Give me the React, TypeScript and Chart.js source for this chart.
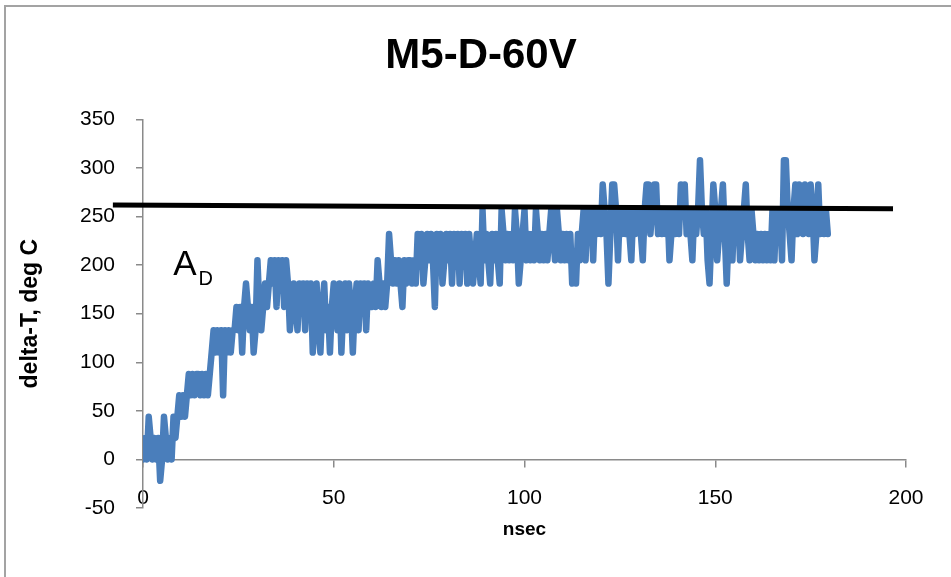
import { useEffect, useRef } from "react";
import { Chart, registerables } from "chart.js";

Chart.register(...registerables);

const FONT = '"Liberation Sans", Arial, sans-serif';

const TITLE = "M5-D-60V";
const X_TITLE = "nsec";
const Y_TITLE = "delta-T, deg C";

const X_MIN = 0;
const X_MAX = 200;
const X_STEP = 50;
const Y_MIN = -50;
const Y_MAX = 350;
const Y_STEP = 50;

// thermocouple sampling interval, ns
const SAMPLE_STEP_NS = 0.5;

// measured temperature rise, one row per 10 ns
const DELTA_T = [
  0, 22, 0, 44, 22, 0, 22, 0, 22, -22, 0, 44, 22, 0, 22, 0, 44, 22, 44, 66,
  44, 66, 44, 66, 88, 66, 88, 66, 88, 88, 66, 88, 66, 88, 66, 88, 110, 133, 110, 133,
  110, 133, 66, 133, 110, 133, 110, 133, 133, 157, 133, 157, 110, 157, 181, 157, 133, 157, 110, 133,
  205, 157, 133, 157, 181, 157, 181, 205, 181, 205, 157, 205, 181, 205, 157, 205, 181, 133, 157, 181,
  157, 133, 181, 157, 181, 133, 181, 157, 181, 110, 157, 181, 133, 110, 157, 181, 133, 157, 110, 157,
  181, 157, 133, 181, 110, 157, 181, 133, 181, 157, 110, 157, 181, 133, 181, 157, 181, 133, 181, 157,
  157, 181, 157, 205, 181, 157, 181, 157, 181, 232, 205, 181, 205, 181, 205, 181, 157, 205, 181, 205,
  205, 181, 205, 181, 232, 205, 232, 181, 205, 232, 205, 232, 205, 157, 232, 205, 232, 181, 205, 232,
  205, 232, 181, 232, 205, 232, 181, 232, 205, 232, 181, 232, 205, 181, 205, 232, 205, 181, 257, 205,
  232, 205, 181, 232, 205, 232, 205, 181, 257, 232, 205, 232, 205, 232, 205, 257, 232, 181, 205, 232,
  257, 205, 232, 205, 232, 205, 257, 232, 205, 232, 205, 232, 205, 232, 257, 232, 205, 257, 232, 205,
  232, 205, 232, 205, 232, 181, 205, 181, 232, 205, 232, 257, 205, 257, 232, 257, 205, 257, 232, 257,
  232, 283, 257, 232, 181, 232, 283, 283, 257, 205, 257, 232, 257, 232, 257, 232, 205, 257, 232, 257,
  257, 232, 205, 257, 283, 283, 232, 257, 283, 283, 232, 257, 232, 257, 232, 257, 205, 232, 257, 232,
  257, 232, 283, 257, 283, 232, 257, 232, 205, 257, 232, 257, 308, 257, 232, 257, 205, 181, 232, 283,
  257, 205, 232, 257, 283, 232, 181, 232, 257, 205, 257, 232, 257, 205, 232, 257, 283, 232, 205, 257,
  232, 205, 232, 205, 232, 205, 232, 205, 232, 205, 257, 205, 257, 232, 257, 205, 308, 308, 257, 232,
  205, 257, 283, 232, 283, 257, 232, 283, 257, 232, 283, 257, 205, 232, 283, 232, 257, 232, 257, 232,
];

// hand-drawn plateau level line (end points)
const PLATEAU_NS = [-7.9, 196.6];
const PLATEAU_DEG = [262, 258];

// "A_D" marker, anchored at the baseline of the A
const MARK_MAIN = "A";
const MARK_SUB = "D";
const MARK_AT_NS = 7.9;
const MARK_AT_DEG = 190;

const markerPlugin = {
  id: "adMarker",
  afterDatasetsDraw(chart: any) {
    const { ctx, scales } = chart;
    const px = scales.x.getPixelForValue(MARK_AT_NS);
    const py = scales.y.getPixelForValue(MARK_AT_DEG);
    ctx.save();
    ctx.fillStyle = "#000";
    ctx.textAlign = "left";
    ctx.textBaseline = "alphabetic";
    ctx.font = `35px ${FONT}`;
    ctx.fillText(MARK_MAIN, px, py);
    const w = ctx.measureText(MARK_MAIN).width;
    ctx.font = `20px ${FONT}`;
    ctx.fillText(MARK_SUB, px + w + 2, py + 10);
    ctx.restore();
  },
};

export default function App() {
  const canvasRef = useRef<HTMLCanvasElement | null>(null);

  useEffect(() => {
    const canvas = canvasRef.current;
    if (!canvas) return;

    const series = DELTA_T.map((v, i) => ({ x: i * SAMPLE_STEP_NS, y: v }));
    const plateau = PLATEAU_NS.map((x, i) => ({ x, y: PLATEAU_DEG[i] }));

    const axisGrey = "#8a8a8a";

    const chart = new Chart(canvas, {
      type: "line",
      data: {
        datasets: [
          {
            label: "plateau",
            data: plateau,
            borderColor: "#000000",
            borderWidth: 5,
            pointRadius: 0,
            clip: false as any,
            order: 0,
          },
          {
            label: "delta-T",
            data: series,
            borderColor: "#4a7ebb",
            borderWidth: 6.5,
            pointRadius: 0,
            tension: 0,
            borderCapStyle: "round",
            borderJoinStyle: "round",
            order: 1,
          },
        ],
      },
      options: {
        responsive: false,
        animation: false,
        devicePixelRatio: 1,
        events: [],
        layout: { padding: { left: 11, top: 0, right: 0, bottom: 69 } },
        plugins: {
          legend: { display: false },
          tooltip: { enabled: false },
          title: {
            display: true,
            text: TITLE,
            color: "#000",
            font: { family: FONT, size: 42, weight: "bold" },
            padding: { top: 31, bottom: 38 },
          },
        },
        scales: {
          x: {
            type: "linear",
            position: { y: 0 } as any,
            min: X_MIN,
            max: X_MAX,
            afterFit(scale: any) {
              scale.height = 82;
            },
            ticks: {
              stepSize: X_STEP,
              color: "#000",
              font: { family: FONT, size: 21 },
              maxRotation: 0,
              padding: 19,
            },
            grid: {
              drawOnChartArea: false,
              drawTicks: true,
              tickLength: 7,
              color: axisGrey,
              lineWidth: 1.5,
            },
            border: { display: true, color: axisGrey, width: 1.5 },
            title: {
              display: true,
              text: X_TITLE,
              color: "#000",
              font: { family: FONT, size: 19, weight: "bold" },
              padding: { top: 0, bottom: 0 },
            },
          },
          y: {
            type: "linear",
            position: "left",
            min: Y_MIN,
            max: Y_MAX,
            afterFit(scale: any) {
              scale.width = 132;
            },
            ticks: {
              stepSize: Y_STEP,
              color: "#000",
              font: { family: FONT, size: 21 },
              padding: 21,
            },
            grid: {
              drawOnChartArea: false,
              drawTicks: true,
              tickLength: 7,
              color: axisGrey,
              lineWidth: 1.5,
            },
            border: { display: true, color: axisGrey, width: 1.5 },
            title: {
              display: true,
              text: Y_TITLE,
              color: "#000",
              font: { family: FONT, size: 23, weight: "bold" },
              padding: { top: 6, bottom: 0 },
            },
          },
          // empty right-hand margin of the plot
          yRight: {
            type: "linear",
            position: "right",
            display: true,
            afterFit(scale: any) {
              scale.width = 45;
            },
            ticks: { display: false },
            grid: { display: false, drawTicks: false },
            border: { display: false },
          },
        },
      },
      plugins: [markerPlugin],
    });

    return () => chart.destroy();
  }, []);

  return (
    <div
      style={{
        position: "fixed",
        left: 0,
        top: 0,
        width: 951,
        height: 577,
        background: "#fff",
        overflow: "hidden",
      }}
    >
      <canvas ref={canvasRef} width={951} height={577} style={{ display: "block" }} />
      <div
        style={{
          position: "absolute",
          left: 4,
          top: 5,
          width: 1000,
          height: 700,
          borderLeft: "2px solid #a3a3a3",
          borderTop: "2px solid #a3a3a3",
          pointerEvents: "none",
        }}
      />
    </div>
  );
}
